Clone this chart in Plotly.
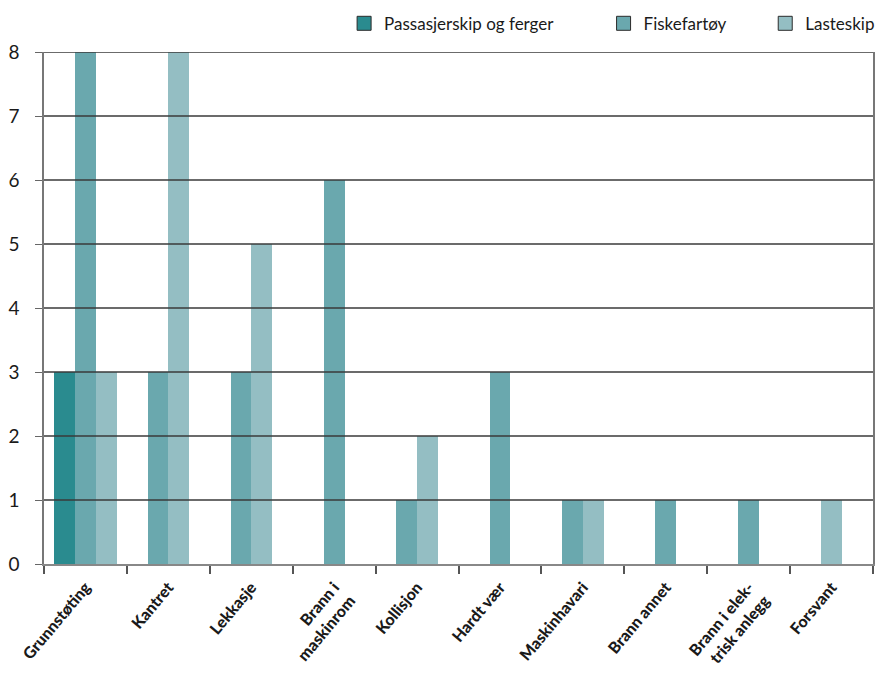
import plotly.graph_objects as go

# Accident types (x categories) and count per vessel group
categories = [
    "Grunnstøting",
    "Kantret",
    "Lekkasje",
    "Brann i<br>maskinrom",
    "Kollisjon",
    "Hardt vær",
    "Maskinhavari",
    "Brann annet",
    "Brann i elek-<br>trisk anlegg",
    "Forsvant",
]
passasjer = [3, 0, 0, 0, 0, 0, 0, 0, 0, 0]
fiske = [8, 3, 3, 6, 1, 3, 1, 1, 1, 0]
laste = [3, 8, 5, 0, 2, 0, 1, 0, 0, 1]

series_names = ["Passasjerskip og ferger", "Fiskefartøy", "Lasteskip"]
series_values = [passasjer, fiske, laste]
series_colors = ["#2a8b8f", "#6aa8ae", "#94bec3"]
y_ticks = [0, 1, 2, 3, 4, 5, 6, 7, 8]

BAR_W = 0.25
FONT = "Lato, Roboto, sans-serif"
LEGEND_X = [0.362, 0.675, 0.870]

# Bars that exist in a category are packed side by side and centred in it
offsets = [[0.0] * len(categories) for _ in series_values]
for i in range(len(categories)):
    present = [s for s, vals in enumerate(series_values) if vals[i] > 0]
    n = len(present)
    for k, s in enumerate(present):
        offsets[s][i] = (-n / 2 + k) * BAR_W

fig = go.Figure()
for name, vals, color, off in zip(series_names, series_values, series_colors, offsets):
    fig.add_trace(go.Bar(
        x=categories,
        y=[v if v > 0 else None for v in vals],
        name=name,
        width=BAR_W,
        offset=off,
        marker=dict(color=color, line=dict(width=0)),
        showlegend=False,
    ))

# Legend keys: outlined squares, one legend box per series
legend_layouts = {}
for idx, (name, color, lx) in enumerate(zip(series_names, series_colors, LEGEND_X)):
    key = "legend" if idx == 0 else f"legend{idx + 1}"
    fig.add_trace(go.Scatter(
        x=[None], y=[None], mode="markers", name=name, legend=key,
        marker=dict(symbol="square", size=14, color=color,
                    line=dict(color="#2b2b2b", width=1)),
        showlegend=True,
    ))
    legend_layouts[key] = dict(
        x=lx, xanchor="left", y=1.02, yanchor="bottom",
        orientation="h",
        font=dict(family=FONT, size=17, color="#1a1a1a"),
        bgcolor="rgba(0,0,0,0)",
    )

# Horizontal rules drawn on top of the bars
shapes = []
for v in y_ticks[1:]:
    shapes.append(dict(
        type="line", xref="paper", x0=0, x1=1, yref="y", y0=v, y1=v,
        line=dict(color="#3a3a3a", width=1.3), layer="above",
    ))

fig.update_layout(
    width=878,
    height=678,
    margin=dict(l=44, r=5, t=52, b=114, autoexpand=False),
    paper_bgcolor="white",
    plot_bgcolor="white",
    barmode="overlay",
    bargap=0,
    shapes=shapes,
    showlegend=True,
    **legend_layouts,
    xaxis=dict(
        type="category",
        automargin=False,
        tickson="boundaries",
        ticks="outside",
        ticklen=8,
        tickcolor="#555",
        tickwidth=1.5,
        tickangle=-50,
        ticklabelstandoff=6,
        tickfont=dict(family=FONT, size=16, color="#1a1a1a", weight=900),
        showline=True,
        linecolor="#888",
        linewidth=1.5,
        mirror=False,
        showgrid=False,
        range=[-0.5, len(categories) - 0.5],
    ),
    yaxis=dict(
        automargin=False,
        range=[0, 8],
        tickvals=y_ticks,
        ticks="outside",
        ticklen=7,
        tickcolor="#666",
        tickwidth=1.2,
        tickfont=dict(family=FONT, size=19, color="#1a1a1a"),
        ticklabelstandoff=12,
        showline=True,
        linecolor="#777",
        linewidth=1.5,
        mirror=True,
        showgrid=False,
        zeroline=False,
    ),
)

fig.write_html("out.html")
